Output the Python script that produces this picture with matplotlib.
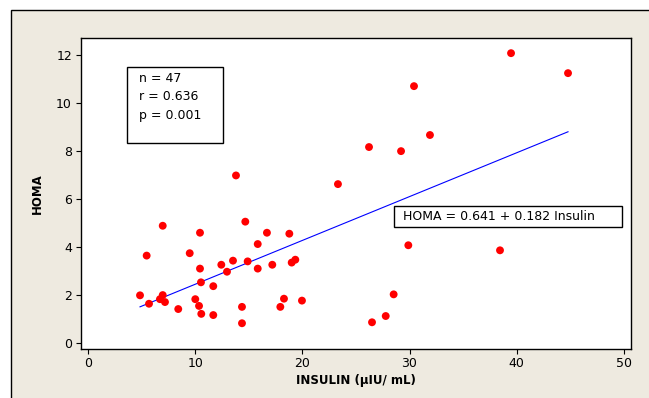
import matplotlib
matplotlib.use("Agg")
import matplotlib.pyplot as plt
from matplotlib.patches import Rectangle
import numpy as np

insulin = [39.48, 44.80, 30.42, 31.91, 26.22, 29.21, 13.80, 23.32, 6.96, 14.67,
           10.44, 16.69, 18.78, 5.46, 9.48, 15.83, 29.89, 38.45, 10.44, 13.52,
           12.43, 14.89, 12.96, 15.83, 17.19, 19.00, 19.34, 10.53, 11.68, 4.84,
           6.96, 6.70, 5.68, 7.17, 10.00, 10.35, 8.41, 10.56, 11.68, 14.36,
           14.36, 18.28, 17.94, 19.96, 28.52, 27.78, 26.50]
homa = [12.06, 11.23, 10.69, 8.66, 8.16, 7.99, 6.98, 6.62, 4.89, 5.06,
        4.60, 4.60, 4.56, 3.65, 3.75, 4.13, 4.08, 3.87, 3.11, 3.44,
        3.27, 3.41, 2.98, 3.11, 3.27, 3.36, 3.48, 2.54, 2.38, 2.00,
        2.01, 1.84, 1.65, 1.72, 1.84, 1.56, 1.43, 1.23, 1.18, 1.52,
        0.84, 1.86, 1.52, 1.78, 2.04, 1.14, 0.88]
intercept = 0.641
slope = 0.182
stats_text = "n = 47\nr = 0.636\np = 0.001"
eq_text = "HOMA = 0.641 + 0.182 Insulin"
x_ticks = [0, 10, 20, 30, 40, 50]
y_ticks = [0, 2, 4, 6, 8, 10, 12]

W, H = 649, 398
fig = plt.figure(figsize=(W / 100, H / 100), dpi=100)
fig.patch.set_facecolor("white")

# outer beige panel with black border
bg = Rectangle((10.5 / W, -0.1), 1.2, 1 - 10.5 / H + 0.1, transform=fig.transFigure,
               facecolor="#EEEAE0", edgecolor="black", linewidth=1.0, zorder=-10)
fig.patches.append(bg)

ax = fig.add_axes([81 / W, 1 - 349 / H, (631 - 81) / W, (349 - 38) / H])
ax.set_zorder(1)
ax.set_facecolor("white")
ax.set_xlim(-0.67, 50.68)
ax.set_ylim(-0.23, 12.69)

ax.scatter(insulin, homa, s=32, color="#FF0000", edgecolors="none", zorder=3)
xs = np.array([min(insulin), max(insulin)])
ax.plot(xs, intercept + slope * xs, color="#0000FF", linewidth=0.8, zorder=2)

ax.set_xticks(x_ticks)
ax.set_yticks(y_ticks)
ax.tick_params(direction="out", length=3.5, width=0.8, labelsize=9, pad=2,
               colors="black")
ax.tick_params(axis="y", pad=3)
for sp in ax.spines.values():
    sp.set_linewidth(1.0)
    sp.set_color("black")

ax.set_xlabel("INSULIN (µIU/ mL)", fontsize=8.5, fontweight="bold", labelpad=3)
ax.set_ylabel("HOMA", fontsize=8.5, fontweight="bold", labelpad=8.5)

# stats box
fig.patches.append(Rectangle((126.7 / W, 1 - 143.3 / H), (222.7 - 126.7) / W,
                             (143.3 - 66.7) / H, transform=fig.transFigure,
                             facecolor="white", edgecolor="black", linewidth=1.0,
                             zorder=5))
fig.text(139 / W, 1 - 72 / H, stats_text, fontsize=9, va="top", ha="left",
         linespacing=1.55, zorder=6)

# equation box
fig.patches.append(Rectangle((394.3 / W, 1 - 227.3 / H), (622.3 - 394.3) / W,
                             (227.3 - 205.7) / H, transform=fig.transFigure,
                             facecolor="white", edgecolor="black", linewidth=1.0,
                             zorder=5))
fig.text(402.5 / W, 1 - 216.5 / H, eq_text, fontsize=9, va="center", ha="left",
         zorder=6)

fig.savefig("out.png", dpi=100)
